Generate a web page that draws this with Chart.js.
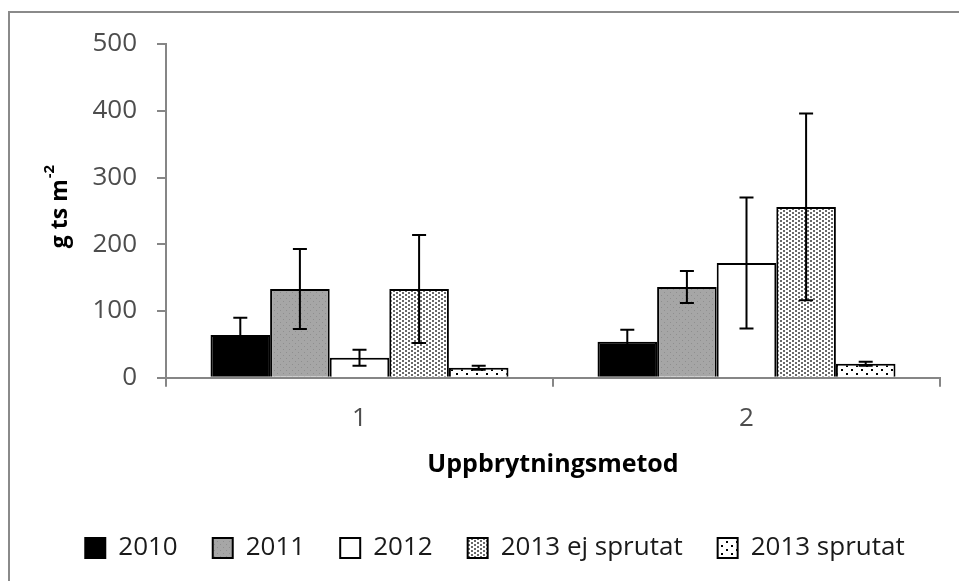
<!DOCTYPE html>
<html>
<head>
<meta charset="utf-8">
<script src="https://cdn.jsdelivr.net/npm/chart.js@4.4.0/dist/chart.umd.min.js"></script>
<style>
  html, body { margin: 0; padding: 0; background: #fff; }
  canvas { display: block; }
</style>
</head>
<body>
<canvas id="chart" width="959" height="581"></canvas>
<script>
// values
const categories = ["1", "2"];
const seriesNames = ["2010", "2011", "2012", "2013 ej sprutat", "2013 sprutat"];
const values2010 = [64, 54];
const values2011 = [133, 136];
const values2012 = [30, 172];
const values2013ej = [133, 256];
const values2013s = [15, 21];
const err2010 = [26, 18];
const err2011 = [60, 24];
const err2012 = [12, 98];
const err2013ej = [81, 140];
const err2013s = [3, 3];
const yTicks = [0, 100, 200, 300, 400, 500];

const FONT = "'Open Sans', sans-serif";

// fill patterns, excel style
function makePattern(w, h, bg, dot, dots, dw, dh) {
  const c = document.createElement("canvas");
  c.width = w;
  c.height = h;
  const g = c.getContext("2d");
  g.fillStyle = bg;
  g.fillRect(0, 0, w, h);
  g.fillStyle = dot;
  dots.forEach(([x, y]) => g.fillRect(x, y, dw, dh));
  return g.createPattern(c, "repeat");
}

const ctx = document.getElementById("chart").getContext("2d");
const grayFill = makePattern(6, 6, "#a6a6a6", "#8f8f8f", [[1, 1], [4, 4]], 1, 1);
const denseDots = makePattern(6, 4, "#ffffff", "#6a6a6a", [[0, 0], [3, 2]], 2, 2);
const sparseDots = makePattern(10, 8, "#ffffff", "#000000", [[1, 1], [6, 5]], 2, 2);

const fills = ["#000000", grayFill, "#ffffff", denseDots, sparseDots];
const allValues = [values2010, values2011, values2012, values2013ej, values2013s];
const allErrors = [err2010, err2011, err2012, err2013ej, err2013s];

const datasets = seriesNames.map((name, i) => ({
  label: name,
  data: allValues[i],
  errors: allErrors[i],
  backgroundColor: fills[i],
  borderColor: "#000000",
  borderWidth: 2,
  barPercentage: 1,
  categoryPercentage: 0.77
}));

const framePlugin = {
  id: "frame",
  beforeDraw(chart) {
    const c = chart.ctx;
    c.save();
    c.fillStyle = "#ffffff";
    c.fillRect(0, 0, chart.width, chart.height);
    c.strokeStyle = "#8a8a8a";
    c.lineWidth = 2;
    c.beginPath();
    c.moveTo(9, chart.height);
    c.lineTo(9, 12);
    c.lineTo(chart.width, 12);
    c.stroke();
    c.restore();
  }
};

const errorBars = {
  id: "errorBars",
  afterDatasetsDraw(chart) {
    const c = chart.ctx;
    const y = chart.scales.y;
    c.save();
    c.strokeStyle = "#000000";
    c.lineWidth = 2;
    chart.data.datasets.forEach((ds, i) => {
      const meta = chart.getDatasetMeta(i);
      meta.data.forEach((bar, j) => {
        const v = ds.data[j];
        const e = ds.errors[j];
        const top = y.getPixelForValue(v + e);
        const bot = y.getPixelForValue(v - e);
        c.beginPath();
        c.moveTo(bar.x, top);
        c.lineTo(bar.x, bot);
        c.moveTo(bar.x - 7, top);
        c.lineTo(bar.x + 7, top);
        c.moveTo(bar.x - 7, bot);
        c.lineTo(bar.x + 7, bot);
        c.stroke();
      });
    });
    c.restore();
  }
};

// y title with a real superscript
const yTitle = {
  id: "yTitle",
  afterDraw(chart) {
    const c = chart.ctx;
    c.save();
    c.translate(60, 207);
    c.rotate(-Math.PI / 2);
    c.fillStyle = "#000000";
    c.textBaseline = "middle";
    c.font = "bold 23px " + FONT;
    const main = "g ts m";
    const w = c.measureText(main).width;
    c.font = "bold 15px " + FONT;
    const sup = "-2";
    const ws = c.measureText(sup).width;
    const x0 = -(w + ws) / 2;
    c.font = "bold 23px " + FONT;
    c.textAlign = "left";
    c.fillText(main, x0, 0);
    c.font = "bold 15px " + FONT;
    c.fillText(sup, x0 + w + 1, -10);
    c.restore();
  }
};

new Chart(ctx, {
  type: "bar",
  data: { labels: categories, datasets },
  plugins: [framePlugin, errorBars, yTitle],
  options: {
    responsive: false,
    animation: false,
    layout: { padding: { left: 50, top: 44, right: 19, bottom: 10 } },
    plugins: {
      tooltip: { enabled: false },
      legend: {
        position: "bottom",
        labels: {
          color: "#1a1a1a",
          font: { family: FONT, size: 26 },
          boxWidth: 20,
          boxHeight: 20,
          padding: 35
        }
      }
    },
    scales: {
      x: {
        grid: {
          display: true,
          drawOnChartArea: false,
          offset: true,
          tickLength: 9,
          color: "#868686",
          lineWidth: 2
        },
        border: { color: "#868686", width: 2 },
        ticks: {
          color: "#4d4d4d",
          font: { family: FONT, size: 26 },
          padding: 16
        },
        title: {
          display: true,
          text: "Uppbrytningsmetod",
          color: "#000000",
          font: { family: FONT, size: 25, weight: "bold" },
          padding: { top: 0, bottom: 20 }
        }
      },
      y: {
        min: 0,
        max: 500,
        afterFit(scale) { scale.width = 116; },
        afterBuildTicks(scale) { scale.ticks = yTicks.map(v => ({ value: v })); },
        grid: {
          display: true,
          drawOnChartArea: false,
          tickLength: 9,
          color: "#868686",
          lineWidth: 2
        },
        border: { color: "#868686", width: 2 },
        ticks: {
          color: "#4d4d4d",
          font: { family: FONT, size: 26 },
          padding: 20
        }
      }
    }
  }
});
</script>
</body>
</html>
